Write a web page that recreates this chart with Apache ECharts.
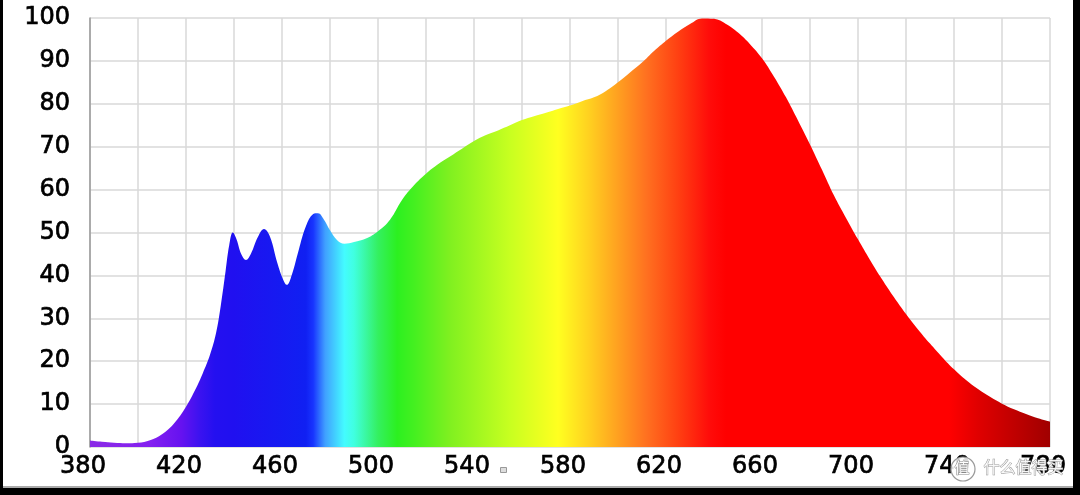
<!DOCTYPE html>
<html>
<head>
<meta charset="utf-8">
<script src="https://cdn.jsdelivr.net/npm/echarts@6/dist/echarts.min.js"></script>
<style>
html,body{margin:0;padding:0;background:#fff;}
#chart{width:1080px;height:495px;}
</style>
</head>
<body>
<div id="chart"></div>
<script>
// wavelength (nm)
const wavelengths = [380,385,390,395,400,405,410,415,420,424,427,430,432.5,434.5,436.5,438,439.5,441,443,445,447,450,452.5,455,458,460.5,462,464,467,470,473,475,477.5,480,483,486,490,495,500,505,510,515,520,525,530,535,540,545,550,555,560,565,570,575,580,585,590,595,600,605,610,615,620,625,630,635,640,645,650,655,660,665,670,675,680,685,690,695,700,705,710,715,720,725,730,735,740,745,750,755,760,765,770,775,780];
// relative intensity (%)
const intensity = [1.5,1.2,1.0,0.9,1.0,1.6,3.0,5.5,9.4,13.5,17.2,21.5,26.5,33,41,47,50,48.5,45,43.6,45,49,50.8,49,43,39,37.8,40,46,51.5,54.3,54.5,53,50.5,48.2,47.4,47.8,48.6,50.3,53,57.6,61,63.7,65.9,67.7,69.5,71.3,72.7,73.8,75,76.2,77.1,77.9,78.8,79.6,80.6,81.5,83,85,87.3,89.6,92.3,94.7,96.8,98.6,99.9,99.8,98.6,96.6,93.9,90.6,86.3,81.5,76.1,70.5,64.6,58.6,53.4,48.4,43.6,39.1,34.9,31,27.4,24.1,21,18.1,15.6,13.5,11.7,10.1,8.8,7.7,6.7,5.9];
const xTicks = [380,420,460,500,540,580,620,660,700,740,780];
const yTicks = [0,10,20,30,40,50,60,70,80,90,100];
// spectrum colour stops: [wavelength, colour]
const spectrumStops = [[380,'#8a2ae6'],[405,'#8420f0'],[418,'#6612f0'],[426,'#3a12f0'],[432,'#2410f0'],[440,'#2010f0'],[470,'#1020f2'],[473,'#1834ff'],[478,'#40a0ff'],[486,'#44fbff'],[490,'#40ffe0'],[500,'#34f060'],[508,'#2cf020'],[515,'#44f020'],[530,'#80f020'],[555,'#c8ff20'],[575,'#ffff20'],[588,'#ffd020'],[600,'#ffa020'],[612,'#ff7020'],[625,'#ff4012'],[638,'#ff0c0a'],[645,'#ff0000'],[738,'#ff0000'],[750,'#e00000'],[780,'#a00000']];

const data = wavelengths.map((w,i)=>[w,intensity[i]]);
const wMin = 380, wMax = 780;
const grad = new echarts.graphic.LinearGradient(0,0,1,0,
  spectrumStops.map(s=>({offset:(s[0]-wMin)/(wMax-wMin), color:s[1]})));

const chart = echarts.init(document.getElementById('chart'), null, {renderer:'canvas'});
chart.setOption({
  animation:false,
  backgroundColor:'#fff',
  grid:{left:90,right:30,top:18,bottom:48,containLabel:false},
  xAxis:{
    type:'value',min:380,max:780,interval:20,
    axisLine:{show:false},
    axisTick:{show:false},
    splitLine:{show:true,lineStyle:{color:'#d8d8d8',width:1.5}},
    axisLabel:{
      fontFamily:'DejaVu Sans',fontSize:24,color:'#000',margin:8,
      textBorderColor:'#000',textBorderWidth:0.7,
      padding:[0,14,0,0],
      formatter:v=> xTicks.includes(v) ? String(v) : ''
    }
  },
  yAxis:{
    type:'value',min:0,max:100,interval:10,
    axisLine:{show:true,lineStyle:{color:'#999',width:1.5}},
    axisTick:{show:false},
    splitLine:{show:true,lineStyle:{color:'#d8d8d8',width:1.5}},
    axisLabel:{
      fontFamily:'DejaVu Sans',fontSize:24,color:'#000',margin:20,
      textBorderColor:'#000',textBorderWidth:0.7,
      padding:[10,0,0,0],
      formatter:v=> yTicks.includes(v) ? String(v) : ''
    }
  },
  series:[{
    type:'line',data:data,smooth:0.4,showSymbol:false,
    lineStyle:{width:0},
    areaStyle:{color:grad,opacity:1},
    z:3
  }],
  graphic:[
    {type:'rect',left:0,top:0,shape:{width:3,height:495},style:{fill:'#000'},z:100},
    {type:'rect',left:1073,top:0,shape:{width:7,height:495},style:{fill:'#000'},z:100},
    {type:'rect',left:0,top:488,shape:{width:1080,height:7},style:{fill:'#000'},z:100},
    {type:'rect',left:0,top:486,shape:{width:1080,height:2},style:{fill:'#aaa'},z:99},
    {type:'rect',left:500,top:467,shape:{width:6,height:5},style:{fill:'#ddd',stroke:'#999',lineWidth:1},z:100},
    {type:'circle',shape:{cx:963,cy:469,r:12},style:{fill:'rgba(255,255,255,0.85)',stroke:'#999',lineWidth:1.2},z:100},
    {type:'text',left:954,top:459,style:{text:'值',font:'15px "Noto Sans CJK SC"',fill:'#fff',stroke:'#888',lineWidth:1},z:101},
    {type:'text',left:983,top:458,style:{text:'什么值得买',font:'16px "Noto Sans CJK SC"',fill:'rgba(255,255,255,0.9)',stroke:'#999',lineWidth:1},z:101}
  ]
});
</script>
</body>
</html>
